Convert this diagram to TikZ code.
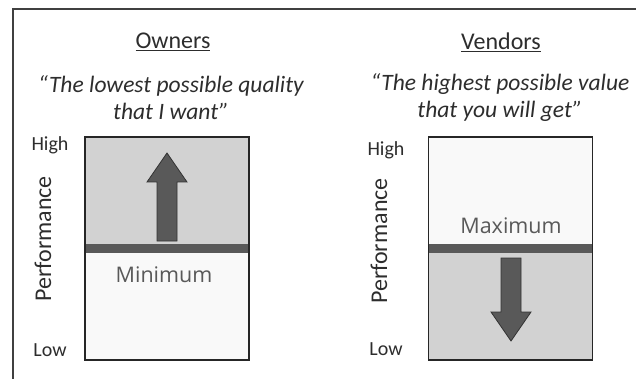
\documentclass[tikz,border=0pt]{standalone}
\usepackage{fontspec}
\setmainfont{Carlito}
\newfontfamily\levelfont{Open Sans}
\definecolor{panelgray}{RGB}{210,210,210}
\definecolor{panelwhite}{RGB}{249,249,249}
\definecolor{bargray}{RGB}{89,89,89}
\definecolor{textgray}{RGB}{45,45,45}
\usetikzlibrary{positioning}

\begin{document}
\begin{tikzpicture}[x=1pt, y=-1pt, every node/.style={inner sep=0pt, text=textgray},
    title/.style={font=\fontsize{24}{28}\selectfont},
    quote/.style={font=\fontsize{23.5}{27}\selectfont\itshape, align=center},
    axis/.style={font=\fontsize{20}{24}\selectfont},
    level/.style={font=\fontsize{21.5}{26}\selectfont\levelfont, text=bargray},
    panel/.style={draw=black!85, line width=1.2pt, minimum width=164pt, minimum height=223pt},
    blockarrow/.style={fill=bargray, draw=black!80, line width=0.8pt, line join=miter}]
    \useasboundingbox (0,0) rectangle (636,379);
    \draw[line width=1.6pt, black!75] (13,379) -- (13,9) -- (636,9);

    % owners
    \node[title] (ownTitle) at (173,42) {\underline{Owners}};
    \node[quote] (ownQuote) at (171,98) {“The lowest possible quality\\that I want”};
    \node[panel] (ownBox) at (167,248.5) {};
    \fill[panelgray] (ownBox.north west) rectangle (249,248);
    \fill[panelwhite] (85,248) rectangle (ownBox.south east);
    \fill[bargray] (85,244) rectangle (249,253);
    \node[panel, fill=none] at (ownBox) {};
    \draw[blockarrow] (157,241) -- (157,182) -- (147,182) -- (167,153)
        -- (187,182) -- (177,182) -- (177,241) -- cycle;
    \node[level] (ownLevel) at (164,275) {Minimum};
    \node[axis] (ownHigh) at (50,145) {High};
    \node[axis] (ownLow) at (50,350) {Low};
    \node[axis, rotate=90, font=\fontsize{24}{28}\selectfont] (ownAxis) at (43,239) {Performance};

    % vendors
    \node[title] (venTitle) at (501,42) {\underline{Vendors}};
    \node[quote] (venQuote) at (500,98) {“The highest possible value\\that you will get”};
    \node[panel] (venBox) at (510.5,248.5) {};
    \fill[panelwhite] (venBox.north west) rectangle (593,248);
    \fill[panelgray] (428,248) rectangle (venBox.south east);
    \fill[bargray] (428,244) rectangle (593,253);
    \node[panel, fill=none] at (venBox) {};
    \draw[blockarrow] (501,258) -- (501,312) -- (491,312) -- (511,341)
        -- (531,312) -- (521,312) -- (521,258) -- cycle;
    \node[level] (venLevel) at (511,226) {Maximum};
    \node[axis] (venHigh) at (386,150) {High};
    \node[axis] (venLow) at (386,349) {Low};
    \node[axis, rotate=90, font=\fontsize{24}{28}\selectfont] (venAxis) at (379,241) {Performance};
\end{tikzpicture}
\end{document}
